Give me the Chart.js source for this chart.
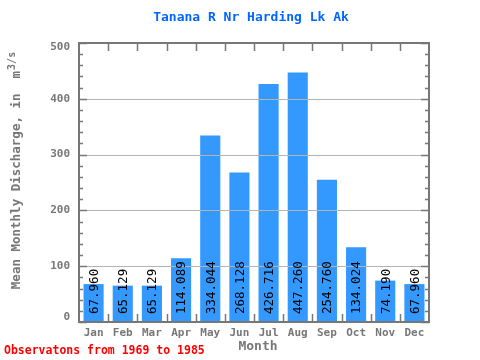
<!DOCTYPE html>
<html><head><meta charset="utf-8">
<script src="https://cdn.jsdelivr.net/npm/chart.js@4"></script>
<style>html,body{margin:0;padding:0;background:#fff}#w{width:480px;height:360px}</style>
</head><body><div id="w"><canvas id="c" width="480" height="360"></canvas></div>
<script>
const months = ["Jan","Feb","Mar","Apr","May","Jun","Jul","Aug","Sep","Oct","Nov","Dec"];
const discharge = [67.960, 65.129, 65.129, 114.089, 334.044, 268.128, 426.716, 447.260, 254.760, 134.024, 74.190, 67.960];
const valueLabels = ["67.960","65.129","65.129","114.089","334.044","268.128","426.716","447.260","254.760","134.024","74.190","67.960"];
const yTicks = [0,100,200,300,400,500];
const titleText = "Tanana R Nr Harding Lk Ak";
const yTitle = "Mean Monthly Discharge, in  m";
const yTitleSup = "3/s";
const xTitle = "Month";
const noteText = "Observatons from 1969 to 1985";

const MONO = '"DejaVu Sans Mono","Liberation Mono",monospace';
const GRAY = '#777777';

const deco = {
  id: 'deco',
  afterDatasetsDraw(chart) {
    const ctx = chart.ctx, a = chart.chartArea;
    const x = chart.scales.x, y = chart.scales.y;
    ctx.save();
    // grid lines over bars
    ctx.strokeStyle = '#b4b4b4'; ctx.lineWidth = 1;
    [100,200,300,400].forEach(v => {
      const py = Math.round(y.getPixelForValue(v)) + 0.5;
      ctx.beginPath(); ctx.moveTo(a.left, py); ctx.lineTo(a.right, py); ctx.stroke();
    });
    // value labels
    const meta = chart.getDatasetMeta(0);
    ctx.fillStyle = '#000'; ctx.font = '12.5px ' + MONO;
    ctx.textAlign = 'left'; ctx.textBaseline = 'middle';
    meta.data.forEach((bar, i) => {
      ctx.save();
      ctx.translate(bar.x + 1, y.getPixelForValue(0) - 8);
      ctx.rotate(-Math.PI/2);
      ctx.fillText(valueLabels[i], 0, 0);
      ctx.restore();
    });
    // frame
    ctx.strokeStyle = GRAY; ctx.lineWidth = 2;
    ctx.strokeRect(a.left, a.top, a.right - a.left, a.bottom - a.top);
    // ticks
    ctx.lineWidth = 1.5;
    for (let v = 0; v <= 500; v += 20) {
      const py = Math.round(y.getPixelForValue(v)) + 0.5;
      const len = (v % 100 === 0) ? 8 : 4;
      ctx.beginPath(); ctx.moveTo(a.left, py); ctx.lineTo(a.left + len, py);
      ctx.moveTo(a.right, py); ctx.lineTo(a.right - len, py); ctx.stroke();
    }
    const cw = (a.right - a.left) / months.length;
    for (let i = 1; i < months.length; i++) {
      const px = Math.round(a.left + i * cw) + 0.5;
      ctx.beginPath(); ctx.moveTo(px, a.top); ctx.lineTo(px, a.top + 8);
      ctx.moveTo(px, a.bottom); ctx.lineTo(px, a.bottom - 8); ctx.stroke();
    }
    // tick labels
    ctx.fillStyle = GRAY; ctx.font = 'bold 11px ' + MONO;
    ctx.textAlign = 'right'; ctx.textBaseline = 'middle';
    yTicks.forEach(v => {
      let py = y.getPixelForValue(v);
      if (v === 500) py += 4;
      if (v === 0) py -= 5;
      ctx.fillText(String(v), a.left - 9, py);
    });
    ctx.textAlign = 'center';
    months.forEach((m, i) => ctx.fillText(m, x.getPixelForValue(i), 333));
    // titles
    ctx.fillStyle = '#0066ff'; ctx.font = 'bold 13px ' + MONO;
    ctx.fillText(titleText, 251, 18);
    ctx.fillStyle = GRAY; ctx.font = 'bold 13px ' + MONO;
    ctx.fillText(xTitle, 258, 347);
    ctx.fillStyle = '#ff0000'; ctx.font = 'bold 11.5px ' + MONO;
    ctx.textAlign = 'left';
    ctx.fillText(noteText, 4, 351);
    // y title
    ctx.save();
    ctx.translate(17, 171); ctx.rotate(-Math.PI/2);
    ctx.fillStyle = GRAY; ctx.font = 'bold 12.5px ' + MONO;
    const w1 = ctx.measureText(yTitle).width;
    ctx.font = 'bold 10px ' + MONO;
    const w2 = ctx.measureText(yTitleSup).width;
    const start = -(w1 + w2) / 2;
    ctx.font = 'bold 12.5px ' + MONO; ctx.textAlign = 'left';
    ctx.fillText(yTitle, start, 0);
    ctx.font = 'bold 10px ' + MONO;
    ctx.fillText(yTitleSup, start + w1 + 1, -5);
    ctx.restore();
    ctx.restore();
  }
};

new Chart(document.getElementById('c'), {
  type: 'bar',
  data: { labels: months, datasets: [{ data: discharge, backgroundColor: '#3399ff', borderWidth: 0, barPercentage: 0.69, categoryPercentage: 1.0 }] },
  options: {
    responsive: false, animation: false, devicePixelRatio: 1,
    layout: { padding: { top: 43, right: 51, left: 0, bottom: 0 } },
    plugins: { legend: { display: false }, tooltip: { enabled: false }, title: { display: false } },
    scales: {
      x: { grid: { display: false }, border: { display: false }, ticks: { display: false },
           afterFit(s) { s.height = 38; } },
      y: { min: 0, max: 500, grid: { display: false }, border: { display: false },
           ticks: { display: false, stepSize: 100 },
           afterFit(s) { s.width = 79; } }
    }
  },
  plugins: [deco]
});
</script>
</body></html>
